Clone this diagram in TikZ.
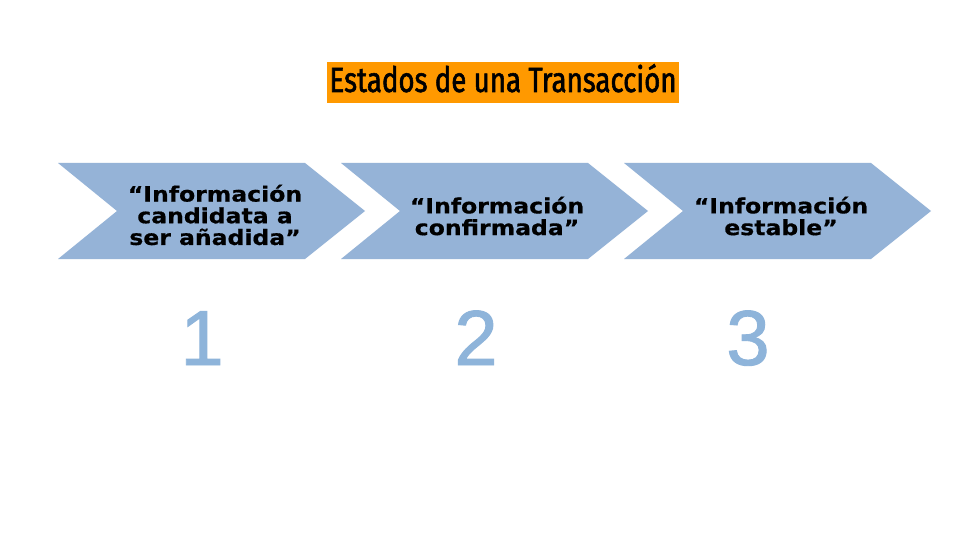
\documentclass[tikz,border=0pt]{standalone}
\usepackage{fontspec}
\setmainfont{DejaVu Sans}
\newfontfamily\chevfont[FakeStretch=1.12,FakeBold=0.6]{DejaVu Sans}
\newfontfamily\titlefont[FakeStretch=0.79,FakeBold=1.6]{Fira Sans}
\newfontfamily\digitfont[FakeBold=1.2]{Liberation Sans}
\definecolor{chevblue}{RGB}{149,179,215}
\definecolor{digitblue}{RGB}{142,180,218}
\definecolor{titleorange}{RGB}{255,153,0}
\tikzset{
  chevtext/.style={align=center, inner sep=0pt, text=black,
    font={\chevfont\bfseries\fontsize{21}{21.7}\selectfont}},
  digit/.style={anchor=base, inner sep=0pt, text=digitblue,
    font={\digitfont\fontsize{78}{78}\selectfont}},
  chevron/.style={fill=chevblue, draw=none}
}
\begin{document}
\begin{tikzpicture}[x=1pt,y=-1pt]
\useasboundingbox (0,0) rectangle (960,540);
\fill[white] (0,0) rectangle (960,540);
% title
\fill[titleorange] (327,62) rectangle (679,103);
\node[anchor=base, inner sep=0pt, font={\titlefont\fontsize{35}{35}\selectfont}] (title) at (503,92) {Estados de una Transacción};
% chevrons
\foreach \L [count=\i] in {58,341,624}{
  \fill[chevron] (\L,163) -- ({\L+247},163) -- ({\L+307},211) -- ({\L+247},259) -- (\L,259) -- ({\L+59},211) -- cycle;
}
\node[chevtext] (t1) at (215,215) {“Información\\candidata a\\ser añadida”};
\node[chevtext] (t2) at (497,216) {“Información\\confirmada”};
\node[chevtext] (t3) at (781,216) {“Información\\estable”};
% numbers
\node[digit] (n1) at (202,365) {1};
\node[digit] (n2) at (476,365) {2};
\node[digit] (n3) at (748,365) {3};
\end{tikzpicture}
\end{document}
